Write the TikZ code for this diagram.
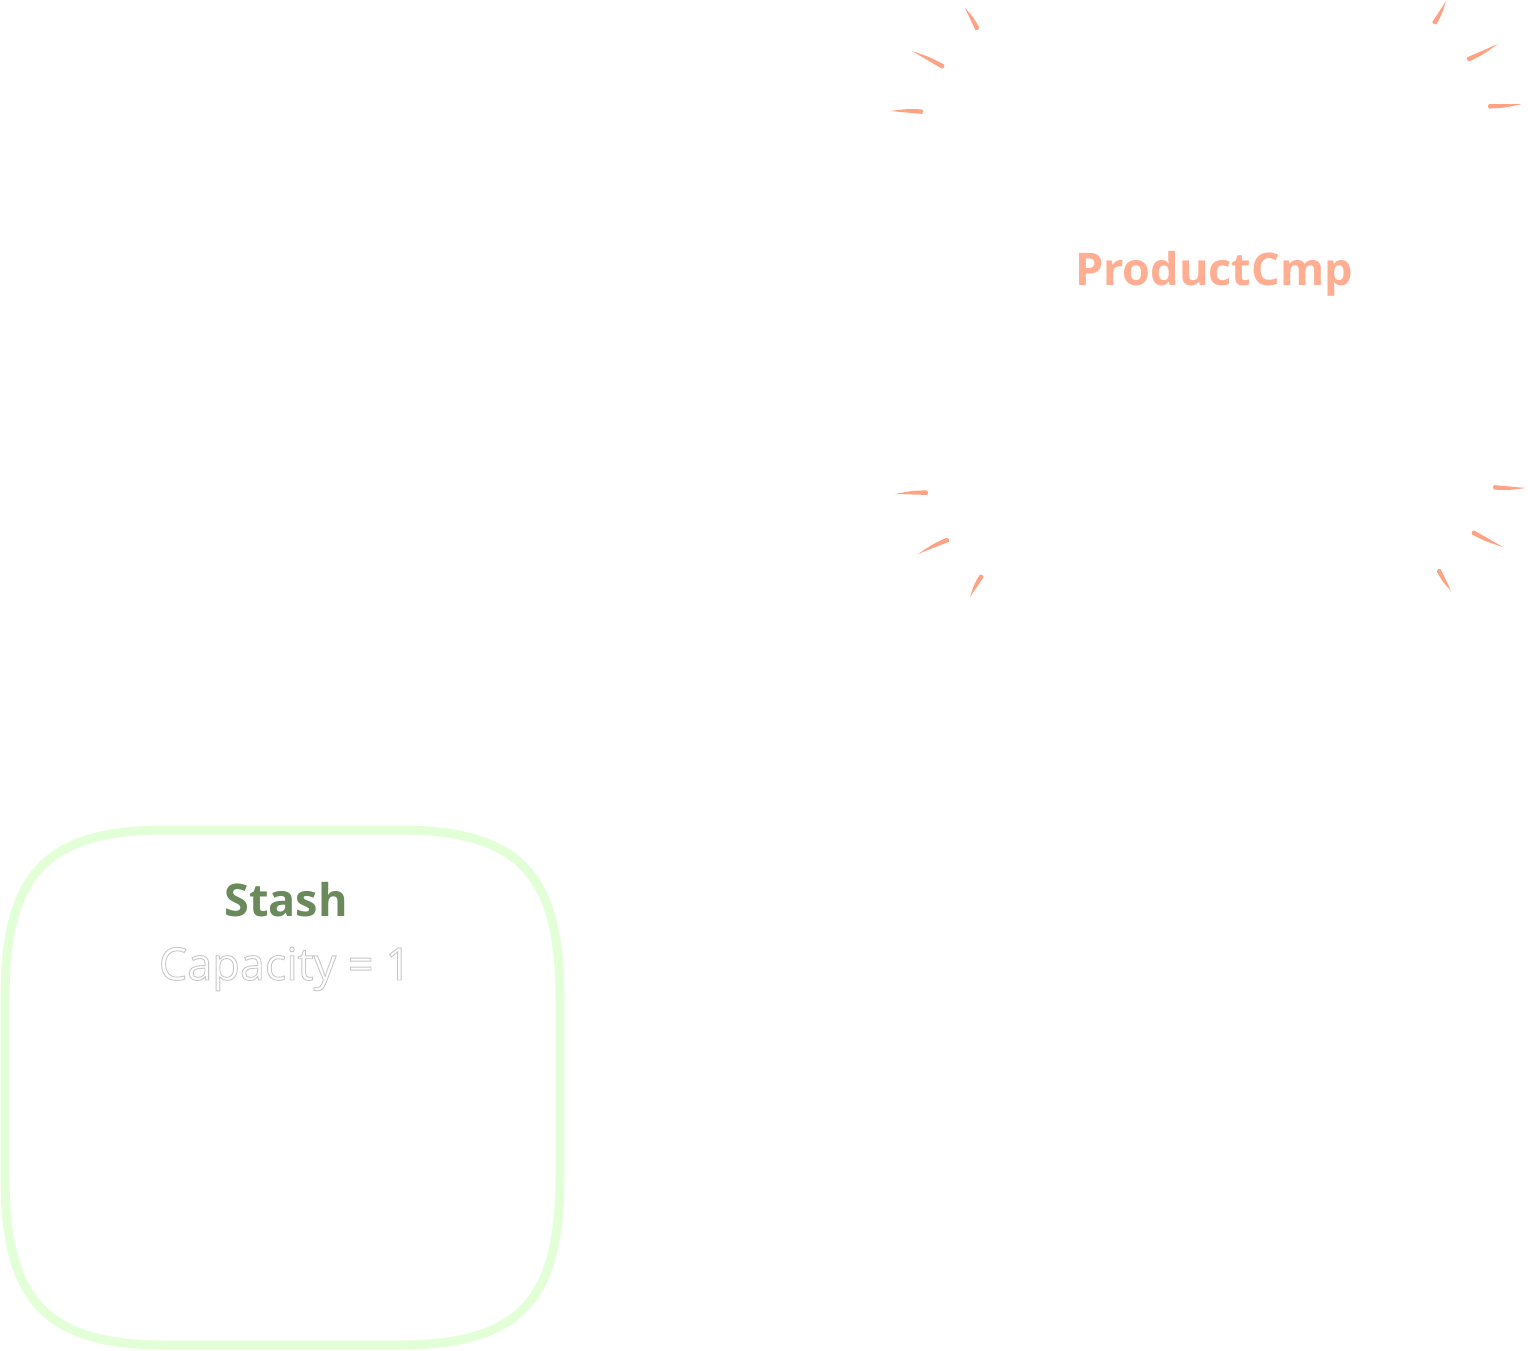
\documentclass[tikz,border=0pt]{standalone}
\usepackage{fontspec}
\setmainfont{Open Sans}
\definecolor{sparkcol}{HTML}{FFA283}
\definecolor{prodcol}{HTML}{FFAE92}
\definecolor{stashgreen}{HTML}{6A8A5B}
\definecolor{boxgreen}{HTML}{E3FFD7}
\newcommand\outlinetext[1]{\special{pdf:literal direct 1 Tr 0.9 w 0.78 0.78 0.78 RG}#1\special{pdf:literal direct 0 Tr}}
\newcommand\sparkmark[4]{%
  \pgfmathsetmacro\spkL{veclen(#3-#1,#4-#2)}%
  \pgfmathsetmacro\spkA{atan2(-(#4-#2),#3-#1)}%
  \begin{scope}[shift={(#1,#2)}, rotate=\spkA]
    \fill[sparkcol] (0,2.6) .. controls (0.45*\spkL,2.8) .. (\spkL,0)
      .. controls (0.5*\spkL,-0.2) .. (0,-1.9)
      .. controls (-1.6,-1.4) and (-1.6,2.2) .. (0,2.6) -- cycle;
  \end{scope}}
\tikzset{
  stashbox/.style={draw=boxgreen, line width=9pt},
  bigbold/.style={font=\bfseries\fontsize{45}{54}\selectfont, anchor=base, inner sep=0pt},
  capstyle/.style={font=\fontsize{45}{54}\selectfont, anchor=base, inner sep=0pt}
}
\begin{document}
\begin{tikzpicture}[x=1pt,y=-1pt]
\useasboundingbox[fill=white] (0,0) rectangle (1528,1350);
% spark marks
\sparkmark{977}{29}{965}{8}
\sparkmark{943}{67}{912}{51}
\sparkmark{922}{112}{890}{111}
\sparkmark{1434}{23}{1446}{1}
\sparkmark{1468}{59}{1498}{44}
\sparkmark{1489}{106}{1522}{104}
\sparkmark{927}{493}{895}{494}
\sparkmark{948}{540}{918}{554}
\sparkmark{982}{576}{970}{597}
\sparkmark{1494}{487}{1526}{488}
\sparkmark{1473}{532}{1503}{547}
\sparkmark{1439}{570}{1451}{591}
\node[bigbold, text=prodcol] (prod) at (1214,285) {ProductCmp};
% stash box
\draw[stashbox] (5,1000) .. controls (5,880) and (40,830) .. (165,830) -- (400,830)
  .. controls (525,830) and (560,880) .. (560,1000) -- (560,1175)
  .. controls (560,1295) and (525,1345) .. (400,1345) -- (165,1345)
  .. controls (40,1345) and (5,1295) .. (5,1175) -- cycle;
\node[bigbold, text=stashgreen] (stash) at (286,916) {Stash};
\node[capstyle] (cap) at (285,980) {\outlinetext{Capacity = 1}};
\end{tikzpicture}
\end{document}
